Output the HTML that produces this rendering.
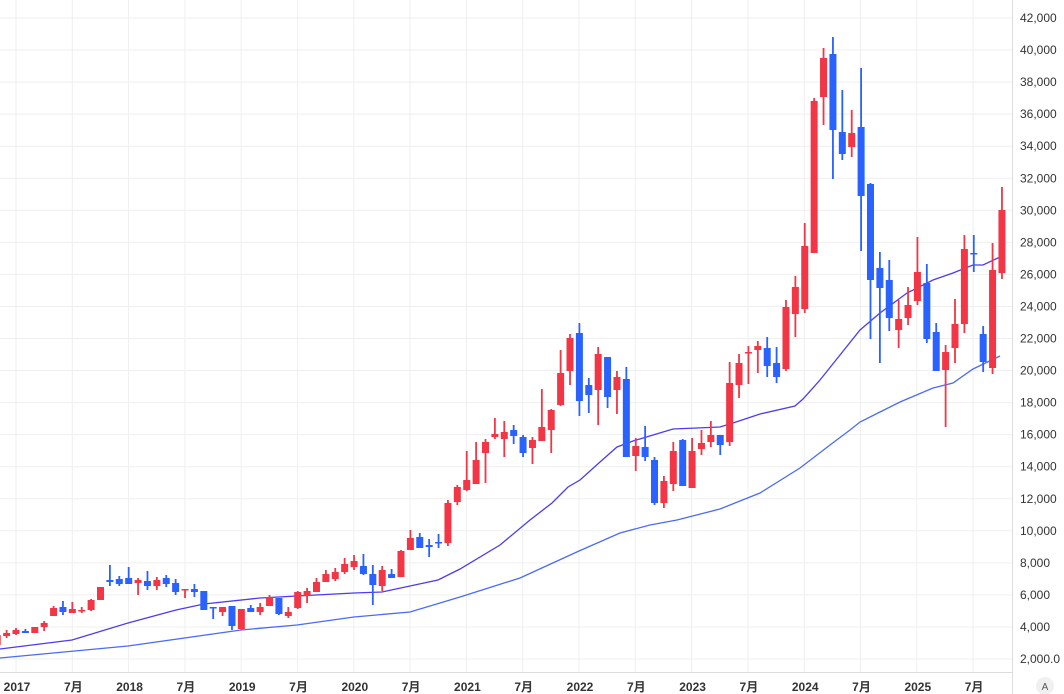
<!DOCTYPE html>
<html><head><meta charset="utf-8"><style>
html,body{margin:0;padding:0;background:#fff;}
svg{display:block;font-family:"Liberation Sans","Noto Sans CJK JP",sans-serif;}
</style></head><body>
<svg id="c" width="1064" height="694" xmlns="http://www.w3.org/2000/svg">
<g id="grid"></g><g id="ma"></g><g id="cd"></g><g id="ax"></g>
</svg>
<script>
var NS="http://www.w3.org/2000/svg";
function el(p,t,a,txt){var e=document.createElementNS(NS,t);for(var k in a)e.setAttribute(k,a[k]);if(txt!==undefined)e.textContent=txt;document.getElementById(p).appendChild(e);return e;}
for(var k=0;k<=20;k++){var y=18+k*32.05;el('grid','line',{x1:0,x2:1012,y1:y,y2:y,stroke:'#efefef','stroke-width':1});
var v=42000-k*2000;var s=v.toLocaleString('en-US');if(v==2000)s='2,000.0';
el('ax','text',{x:1020,y:y+4,'text-anchor':'start','font-size':12,fill:'#333'},s);}
var xl=['2017','7月','2018','7月','2019','7月','2020','7月','2021','7月','2022','7月','2023','7月','2024','7月','2025','7月'];
for(var i=0;i<xl.length;i++){var x=16+i*56.3;el('grid','line',{x1:x,x2:x,y1:0,y2:672,stroke:'#efefef','stroke-width':1});
el('ax','text',{x:x+1,y:691,'text-anchor':'middle','font-size':12,'font-weight':'bold',fill:'#333'},xl[i]);}
el('ax','line',{x1:0,x2:1012,y1:672.5,y2:672.5,stroke:'#ddd'});
el('ax','line',{x1:1012.5,x2:1012.5,y1:0,y2:694,stroke:'#ddd'});
el('ax','circle',{cx:1045,cy:686,r:9,fill:'#f0f0f0'});
el('ax','text',{x:1045,y:690,'text-anchor':'middle','font-size':10,fill:'#555'},'A');
var C=[[-2,635,645,633,647,1],[-1,633,636,630,638,1],[0,630,634,628,635,1],[1,631,633,629,633,0],[2,627,633,627,633,1],[3,623,627,621,631,1],[4,608,616,606,616,1],[5,607,612,601,615,0],[6,609,613,602,613,1],[7,610,611,607,613,1],[8,600,610,599,611,1],[9,587,600,587,600,1],[10,580,582,565,586,0],[11,579,584,576,586,0],[12,578,584,567,584,0],[13,580,583,578,595,1],[14,581,586,571,590,0],[15,580,586,577,590,1],[16,578,584,575,587,0],[17,583,592,579,595,0],[18,589,590,589,598,1],[19,589,592,584,597,0],[20,591,610,591,610,0],[21,607,608,607,619,0],[22,607,612,607,616,1],[23,606,626,606,630,0],[24,609,629,609,630,1],[25,608,612,605,612,0],[26,607,612,603,615,1],[27,597,606,595,606,1],[28,598,614,598,615,0],[29,612,616,607,618,1],[30,592,608,591,609,1],[31,591,596,588,603,1],[32,582,592,578,592,1],[33,574,582,570,582,1],[34,572,579,568,581,1],[35,564,572,558,574,1],[36,561,567,555,570,1],[37,566,574,554,575,0],[38,574,585,565,605,0],[39,570,586,566,591,1],[40,574,578,569,578,0],[41,551,577,550,577,1],[42,538,550,530,550,1],[43,537,548,533,548,0],[44,545,547,539,557,0],[45,542,543,534,548,0],[46,503,543,500,546,1],[47,487,502,485,505,1],[48,480,490,451,491,1],[49,460,484,442,484,1],[50,442,453,439,483,1],[51,434,437,418,439,1],[52,432,439,421,457,1],[53,430,436,425,444,0],[54,437,453,435,457,0],[55,440,448,437,464,1],[56,427,441,389,441,1],[57,410,430,409,453,1],[58,373,405,350,406,1],[59,338,371,334,385,1],[60,333,401,323,416,0],[61,385,395,378,413,0],[62,354,390,347,425,1],[63,357,397,357,408,0],[64,377,390,371,414,1],[65,379,457,367,457,0],[66,446,456,438,471,1],[67,447,457,426,461,0],[68,460,503,457,505,0],[69,481,503,476,508,1],[70,451,484,442,491,1],[71,440,486,439,486,0],[72,451,488,438,488,1],[73,443,449,430,455,1],[74,435,442,421,447,1],[75,435,445,435,455,0],[76,383,442,362,446,1],[77,363,385,354,398,1],[78,352,353,346,384,1],[79,346,350,341,373,1],[80,348,366,337,377,0],[81,363,377,347,383,0],[82,307,369,300,371,1],[83,287,314,276,337,1],[84,246,309,223,313,1],[85,101,253,98,253,1],[86,58,97,48,125,1],[87,54,130,37,179,0],[88,132,154,90,160,0],[89,133,147,110,157,1],[90,127,196,68,251,0],[91,184,280,183,339,0],[92,268,288,252,363,0],[93,280,318,260,331,0],[94,319,330,300,348,1],[95,305,318,287,325,1],[96,272,301,237,305,1],[97,283,339,264,343,0],[98,332,371,323,371,0],[99,352,370,345,427,1],[100,324,348,299,363,1],[101,249,324,235,333,1],[102,253,254,235,272,0],[103,334,362,326,372,0],[104,270,368,243,374,1],[105,210,273,187,279,1]];
C.forEach(function(c){var x=16+c[0]*9.39;var col=c[5]?'#f23645':'#2962ff';
el('cd','rect',{x:x-0.9,y:c[3],width:1.8,height:c[4]-c[3],fill:col});
el('cd','rect',{x:x-3.5,y:c[1],width:7,height:Math.max(1.5,c[2]-c[1]),fill:col});});
var m1=[[0,649],[72,640],[128,623],[176,610],[204,604],[260,598],[297,596],[354,593],[382,592],[410,586],[438,580],[460,569],[500,545],[530,520],[552,503],[568,487],[580,480],[600,462],[617,447],[633,441],[673,429],[720,427],[733,423],[760,414],[795,406],[803,399],[820,380],[840,355],[860,330],[880,313],[907,293],[933,280],[953,273],[973,265],[983,265],[1000,257]];
var m2=[[0,658],[128,646],[241,630],[297,625],[354,617],[410,612],[460,597],[520,578],[579,551],[620,533],[650,525],[677,520],[720,509],[760,493],[800,468],[830,445],[850,430],[860,422],[880,412],[900,402],[933,388],[953,383],[973,369],[1000,356]];
function pts(a){return a.map(function(p){return p[0]+','+p[1]}).join(' ');}
el('ma','polyline',{points:pts(m1),fill:'none',stroke:'#4b3cf0','stroke-width':1.3});
el('ma','polyline',{points:pts(m2),fill:'none',stroke:'#4a6cf5','stroke-width':1.3});
</script>
</body></html>
